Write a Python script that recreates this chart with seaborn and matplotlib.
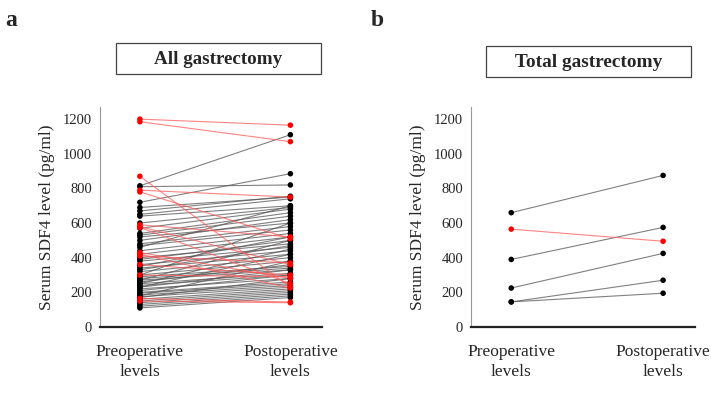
import numpy as np
import pandas as pd
import seaborn as sns
import matplotlib as mpl
mpl.use('Agg')
import matplotlib.pyplot as plt
from matplotlib.patches import Rectangle

stages = ['Preoperative\nlevels', 'Postoperative\nlevels']
yticks = [0, 200, 400, 600, 800, 1000, 1200]

# panel a: all gastrectomy (pg/ml), red = decreased after surgery
all_pre_red = [1200, 1185, 870, 790, 780, 590, 580, 575, 430, 420, 410, 360, 300, 165, 150]
all_post_red = [1165, 1070, 230, 750, 510, 520, 360, 250, 280, 225, 370, 300, 290, 144, 140]
all_pre_black = [815, 810, 720, 690, 670, 650, 640, 600, 570, 540, 530, 520, 500, 480, 470,
                 460, 440, 420, 400, 390, 380, 360, 350, 340, 320, 300, 290, 280, 270, 260,
                 250, 240, 230, 220, 210, 200, 195, 185, 175, 170, 160, 150, 140, 130, 120,
                 110, 250, 300, 180, 230, 270, 330]
all_post_black = [1110, 820, 885, 750, 755, 740, 700, 690, 680, 660, 640, 600, 620, 580, 560,
                  700, 540, 520, 480, 500, 460, 440, 520, 420, 400, 380, 350, 340, 330, 360,
                  310, 300, 330, 280, 300, 260, 250, 240, 230, 280, 220, 210, 200, 190, 180,
                  170, 450, 600, 380, 420, 500, 470]

# panel b: total gastrectomy
tot_pre_red = [565]
tot_post_red = [495]
tot_pre_black = [660, 390, 225, 145, 145]
tot_post_black = [875, 575, 425, 270, 195]


def to_long(pre_r, post_r, pre_b, post_b):
    rows = []
    pid = 0
    for grp, pre, post in [('up', pre_b, post_b), ('down', pre_r, post_r)]:
        for a, b in zip(pre, post):
            rows.append(dict(pid=pid, grp=grp, stage=0, level=a))
            rows.append(dict(pid=pid, grp=grp, stage=1, level=b))
            pid += 1
    return pd.DataFrame(rows)


sns.set_style('white')
plt.rcParams['font.family'] = ['Liberation Serif', 'DejaVu Serif']

fig = plt.figure(figsize=(7.11, 3.93), dpi=100)
line_pal = {'up': '#555555', 'down': '#ff5a5a'}
dot_pal = {'up': 'black', 'down': '#ff0000'}


def panel(rect, df, title, box, title_fs, letter, letter_x):
    ax = fig.add_axes(rect)
    sns.lineplot(data=df, x='stage', y='level', units='pid', estimator=None, hue='grp',
                 palette=line_pal, lw=0.8, alpha=0.75, legend=False, ax=ax)
    sns.scatterplot(data=df, x='stage', y='level', hue='grp', palette=dot_pal, s=16,
                    linewidth=0, legend=False, ax=ax, zorder=3)
    ax.set_xlim(-0.265, 1.21)
    ax.set_ylim(0, 1270)
    ax.set_xticks([0, 1])
    ax.set_xticklabels(stages, fontsize=12.5, linespacing=1.4)
    ax.set_yticks(yticks)
    ax.set_yticklabels([str(v) for v in yticks], fontsize=10.5)
    ax.tick_params(axis='x', length=0, pad=12)
    ax.tick_params(axis='y', length=3.5, width=0.6, color='#888888', direction='inout', pad=4)
    ax.set_xlabel('')
    ax.set_ylabel('Serum SDF4 level (pg/ml)', fontsize=12.5, labelpad=6)
    for s in ['top', 'right']:
        ax.spines[s].set_visible(False)
    ax.spines['left'].set_color('#999999')
    ax.spines['left'].set_linewidth(0.8)
    ax.spines['bottom'].set_color('#222222')
    ax.spines['bottom'].set_linewidth(1.6)
    bx, by, bw, bh = box
    fig.patches.append(Rectangle((bx / 711, 1 - (by + bh) / 393), bw / 711, bh / 393,
                                 transform=fig.transFigure, fill=False, ec='#444444', lw=0.9))
    fig.text((bx + bw / 2) / 711, 1 - (by + bh / 2 + 1) / 393, title, ha='center', va='center',
             fontsize=title_fs, fontweight='bold')
    fig.text(letter_x / 711, 1 - 21 / 393, letter, ha='left', va='center',
             fontsize=17, fontweight='bold')
    return ax


panel([100 / 711, 66 / 393, 222 / 711, 220 / 393], to_long(all_pre_red, all_post_red, all_pre_black, all_post_black),
      'All gastrectomy', (116, 43, 205, 31), 13.7, 'a', 5)
panel([471 / 711, 66 / 393, 224 / 711, 220 / 393], to_long(tot_pre_red, tot_post_red, tot_pre_black, tot_post_black),
      'Total gastrectomy', (486, 46, 205, 31), 13.9, 'b', 371)

fig.savefig('out.png', dpi=100)
